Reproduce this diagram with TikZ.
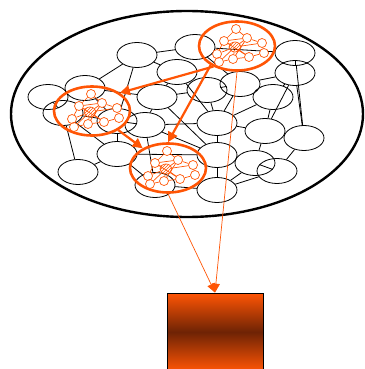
\documentclass[tikz,border=0pt]{standalone}
\usepackage{amsmath}
\usepackage{amssymb}
\usetikzlibrary{shapes.geometric,arrows.meta,patterns}

\definecolor{orng}{RGB}{255,85,5}
\definecolor{brwn}{RGB}{110,35,5}

\tikzset{
  cell/.style={draw, ellipse, line width=0.8pt, inner sep=0pt, minimum width=40pt, minimum height=25pt},
  netring/.style={draw=orng, ellipse, line width=2.6pt, inner sep=0pt, minimum width=76pt, minimum height=49pt},
  dot/.style={draw=orng, circle, fill=white, line width=0.7pt, inner sep=0pt, minimum size=9pt},
  hub/.style={draw=orng, ellipse, line width=0.7pt, inner sep=0pt, minimum width=12pt, minimum height=10pt, pattern=north east lines, pattern color=orng},
  wire/.style={orng, line width=0.7pt},
  bigarr/.style={orng, line width=2.2pt, -{Triangle[length=10pt,width=10pt]}},
  thinarr/.style={orng, line width=0.7pt, -{Triangle[length=9pt,width=8pt]}},
  minnet/.pic={
    \foreach \n/\x/\y in {a/-1/-17, b/-13/-5, c/10/-8, d/25/-3, e/-20/8, f/27/7, g/-18/16, k/-4/13, i/12/11}
      \node[dot] (-\n) at (\x,\y) {};
    \node[hub] (-h) at (-2,1) {};
    \foreach \p/\q in {a/b, a/c, b/c, c/d, d/f, f/i, b/e, e/g, g/k, k/i, b/h, c/h, e/h, g/h, k/h, i/h, d/h, c/k, b/i}
      \draw[wire] (-\p) -- (-\q);
  }
}

\begin{document}
\begin{tikzpicture}[x=1pt,y=-1pt]
  \useasboundingbox (0,0) rectangle (364,369);

  %%field
  \node[draw, ellipse, line width=2.4pt, inner sep=0pt, minimum width=352pt, minimum height=206pt] (field) at (187,114) {};

  %%lattice
  \foreach \n/\x/\y in {1/48/97, 2/85/88, 3/137/55, 4/195/47, 5/177/72, 6/157/97, 7/207/90, 8/295/53,
                        9/295/73, 10/273/97, 11/240/84, 12/63/113, 13/117/121, 14/145/125, 15/217/123,
                        16/265/131, 17/304/138, 18/78/172, 19/117/154, 20/217/155, 21/255/163,
                        22/277/171, 23/217/190, 24/155/185}
    \node[cell] (c\n) at (\x,\y) {};
  \foreach \a/\b in {1/2, 2/3, 3/4, 3/5, 5/6, 5/7, 6/7, 2/6, 4/11, 7/11, 11/9, 8/9, 9/10, 10/11,
                     10/16, 9/17, 16/17, 15/16, 7/15, 6/14, 14/15, 12/13, 1/12, 2/13, 13/14, 12/18,
                     13/19, 18/19, 19/24, 24/23, 14/20, 15/20, 20/21, 21/22, 16/21, 17/22, 20/23,
                     23/22, 19/20, 3/13, 5/15, 8/17, 4/8, 12/19, 11/15, 10/15, 9/16, 21/23, 14/24, 6/20}
    \draw[line width=0.8pt] (c\a) -- (c\b);

  %%subnets
  \node[netring] (topnet) at (237,46) {};
  \node[netring] (leftnet) at (92,111) {};
  \node[netring] (botnet) at (168,168) {};
  \pic (tn) at (237,46) {minnet};
  \pic (ln) at (92,111) {minnet};
  \pic (bn) at (168,168) {minnet};

  \draw[bigarr] (topnet.221) -- (leftnet.33);
  \draw[bigarr] (topnet.216) -- (botnet.north);
  \draw[bigarr] (leftnet.324) -- (botnet.142);

  %%output
  \node[draw, line width=0.8pt, top color=orng, bottom color=orng, middle color=brwn,
        inner sep=0pt, minimum width=96pt, minimum height=78pt] (outbox) at (215,332) {};
  \draw[thinarr] (topnet.south) -- (outbox.north);
  \draw[thinarr] (botnet.south) -- (outbox.north);
\end{tikzpicture}
\end{document}
